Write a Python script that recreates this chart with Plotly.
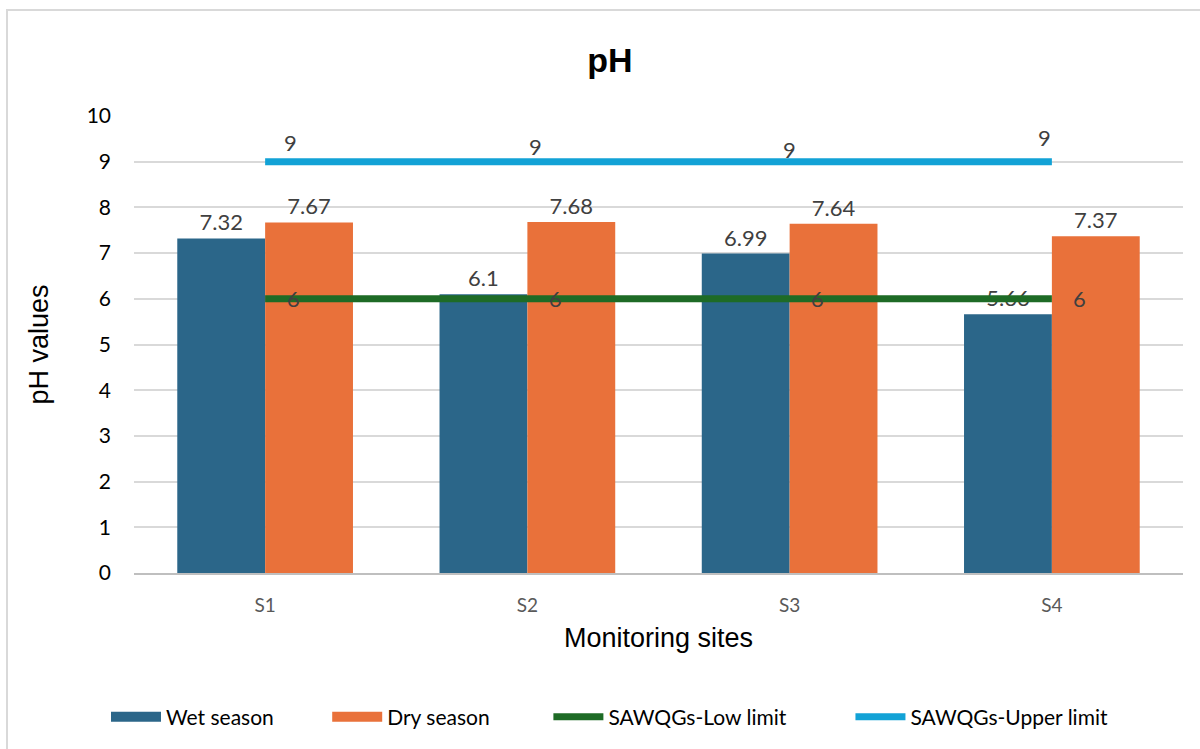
import plotly.graph_objects as go

sites = ["S1", "S2", "S3", "S4"]
wet_season = [7.32, 6.1, 6.99, 5.66]
dry_season = [7.67, 7.68, 7.64, 7.37]
low_limit = [6, 6, 6, 6]
upper_limit = [9, 9, 9, 9]
y_ticks = [0, 1, 2, 3, 4, 5, 6, 7, 8, 9, 10]

W, H = 1200, 749
L, R, T, B = 134, 17, 116, 176
pw, ph = W - L - R, H - T - B

def px(x):
    return (x - L) / pw

def py(y):
    return (H - B - y) / ph

WET, DRY, LOW, UP = "#2b6689", "#e9713a", "#1e6b26", "#12a2d6"
label_font = dict(family="Lato, DejaVu Sans", size=22, color="#404040")

fig = go.Figure()
fig.add_trace(go.Bar(
    name="Wet season", x=sites, y=wet_season, showlegend=False,
    marker=dict(color=WET, line=dict(width=0)),
    text=[str(v) for v in wet_season], textposition="outside",
    textfont=label_font, cliponaxis=False,
))
fig.add_trace(go.Bar(
    name="Dry season", x=sites, y=dry_season, showlegend=False,
    marker=dict(color=DRY, line=dict(width=0)),
    text=[str(v) for v in dry_season], textposition="outside",
    textfont=label_font, cliponaxis=False,
))
fig.add_trace(go.Scatter(
    name="SAWQGs-Low limit", x=sites, y=low_limit, mode="lines", showlegend=False,
    line=dict(color=LOW, width=7),
))
fig.add_trace(go.Scatter(
    name="SAWQGs-Upper limit", x=sites, y=upper_limit, mode="lines", showlegend=False,
    line=dict(color=UP, width=7),
))

# legend entries (wide swatches like the original)
legend_items = [("Wet season", WET, 15, 9), ("Dry season", DRY, 15, 10),
                ("SAWQGs-Low limit", LOW, 7, 11), ("SAWQGs-Upper limit", UP, 7, 0)]
for name, col, w, n in legend_items:
    fig.add_trace(go.Scatter(x=[None], y=[None], mode="lines", name=name + "\u00a0" * n,
                             line=dict(color=col, width=w), showlegend=True))

# line data labels
low_shift = [(28, 0)] * 4
up_shift = [(25, 19), (8, 15), (0, 12), (-7, 24)]
for s, v, (dx, dy) in zip(sites, low_limit, low_shift):
    fig.add_annotation(x=s, y=v, text=str(v), showarrow=False, xshift=dx, yshift=dy,
                       font=label_font)
for s, v, (dx, dy) in zip(sites, upper_limit, up_shift):
    fig.add_annotation(x=s, y=v, text=str(v), showarrow=False, xshift=dx, yshift=dy,
                       font=label_font)

fig.update_layout(
    width=W, height=H,
    margin=dict(l=L, r=R, t=T, b=B),
    paper_bgcolor="white", plot_bgcolor="white",
    barmode="group", bargap=0.33, bargroupgap=0,
    showlegend=True,
    title=dict(text="<b>pH</b>", xref="container", x=610 / W, xanchor="center",
               yref="container", y=1 - 60 / H, yanchor="middle",
               font=dict(family="Liberation Sans, Arial", size=34, color="black")),
    legend=dict(orientation="h", x=px(106), xanchor="left", y=py(717), yanchor="middle",
                font=dict(family="Lato, DejaVu Sans", size=21, color="black"),
                itemwidth=50, tracegroupgap=0, traceorder="normal"),
    xaxis=dict(
        showgrid=False, showline=True, linecolor="#bfbfbf", linewidth=1.5,
        tickfont=dict(family="Lato, DejaVu Sans", size=19, color="#595959"),
        ticks="", ticklabelstandoff=14,
        title=dict(text="Monitoring sites", standoff=14,
                   font=dict(family="Liberation Sans, Arial", size=27, color="black")),
    ),
    yaxis=dict(
        range=[0, 10], tickvals=y_ticks, showgrid=True, gridcolor="#d9d9d9", gridwidth=1.5,
        zeroline=False, showline=False, ticks="",
        tickfont=dict(family="Lato, DejaVu Sans", size=21, color="black"),
        ticklabelstandoff=22,
        title=dict(text="pH values", standoff=30,
                   font=dict(family="Liberation Sans, Arial", size=27, color="black")),
    ),
    shapes=[dict(type="rect", xref="paper", yref="paper",
                 x0=px(7), x1=px(1215), y0=py(760), y1=py(10),
                 line=dict(color="#d9d9d9", width=2), fillcolor="rgba(0,0,0,0)", layer="below")],
)

fig.write_html("out.html")
